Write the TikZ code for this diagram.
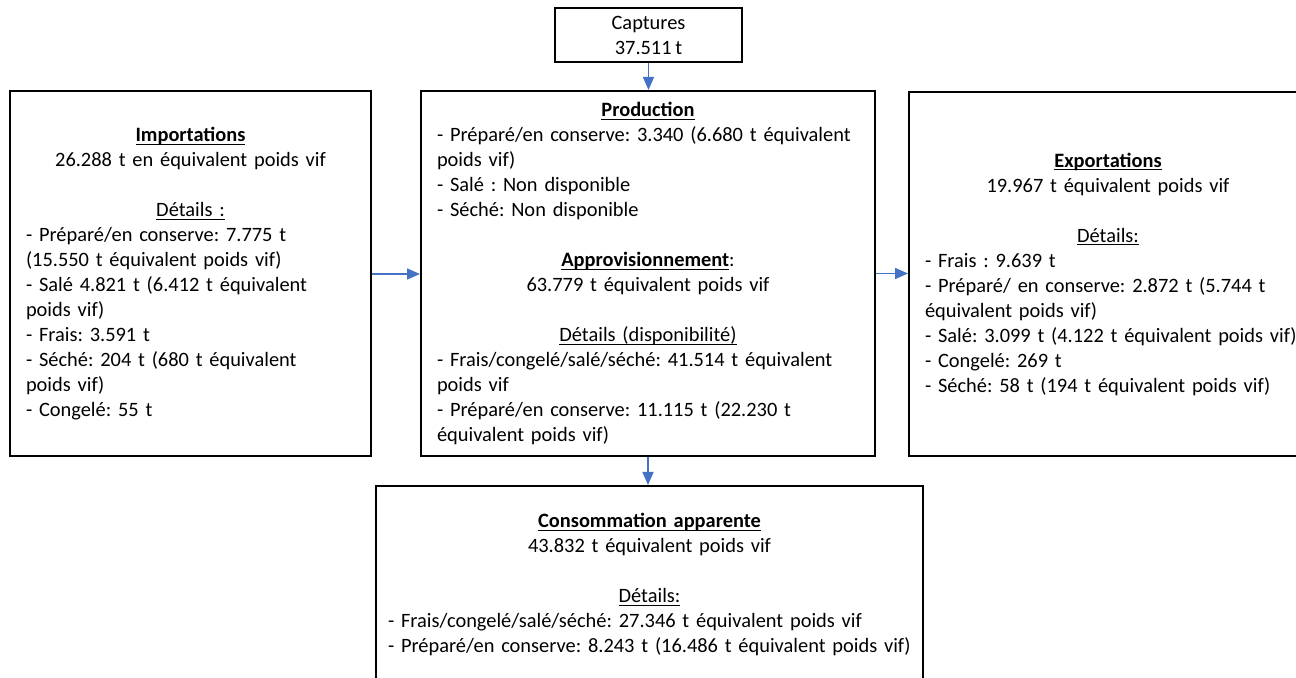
\documentclass[tikz,border=0pt]{standalone}
\usepackage{fontspec}
\setmainfont{Carlito}
\usepackage{tikz}
\usetikzlibrary{arrows.meta}
\usetikzlibrary{positioning}
\definecolor{fl-arrow}{HTML}{4472C4}
\definecolor{fl-text}{HTML}{000000}
\newcommand{\uln}[1]{\leavevmode\setbox0\hbox{#1}\rlap{\rule[-1.6pt]{\wd0}{0.55pt}}\box0}
\newcommand{\gap}{\par\vspace{12.5pt}}
\newcommand{\boxfont}{\fontsize{10.2}{12.5}\selectfont\frenchspacing\spaceskip 0.18em\relax}

\begin{document}
\frenchspacing
\begin{tikzpicture}[x=0.5pt, y=-0.5pt,
    >={Triangle[length=6.5pt, width=5.5pt]},
    box/.style={draw=black, line width=1pt, fill=white, text=fl-text,
        inner xsep=8pt, inner ysep=0pt, font=\boxfont},
    panel/.style={box, execute at begin node={\raggedright}},
    flow/.style={->, fl-arrow, line width=0.75pt}]
    % --- Page frame and clipping ---
    \useasboundingbox (0, 0) rectangle (1296, 678);
    \clip (0, 0) rectangle (1296, 678);

    % --- Captures on top ---
    \node[box, minimum width=93.5pt, minimum height=27pt, align=center] (capt) at (648.5, 35)
        {Captures\\37.511 t};

    % --- Production and supply in the middle ---
    \node[panel, minimum width=227pt, minimum height=182.5pt, text width=211pt] (prod) at (648, 273.5) {%
        {\centering\uln{\textbf{Production}}\par}
        \mbox{- Préparé/en conserve: 3.340 (6.680 t équivalent}\\
        poids vif)\\
        - Salé : Non disponible\\
        - Séché: Non disponible\gap
        {\centering\uln{\textbf{Approvisionnement}}:\\
        63.779 t équivalent poids vif\gap
        \uln{Détails (disponibilité)}\par}
        \mbox{- Frais/congelé/salé/séché: 41.514 t équivalent}\\
        poids vif\\
        - Préparé/en conserve: 11.115 t (22.230 t\\
        équivalent poids vif)};

    % --- Imports on the left ---
    \node[panel, minimum width=180.5pt, minimum height=182.5pt, text width=164.5pt] (imp) at (190.5, 274) {%
        {\centering\uln{\textbf{Importations}}\\
        26.288 t en équivalent poids vif\gap
        \uln{Détails :}\par}
        - Préparé/en conserve: 7.775 t\\
        (15.550 t équivalent poids vif)\\
        - Salé 4.821 t (6.412 t équivalent\\
        poids vif)\\
        - Frais: 3.591 t\\
        - Séché: 204 t (680 t équivalent\\
        poids vif)\\
        - Congelé: 55 t};

    % --- Exports on the right (box runs past the page) ---
    \node[panel, minimum width=199pt, minimum height=182pt, text width=183pt] (exp) at (1108, 274) {%
        {\centering\uln{\textbf{Exportations}}\\
        19.967 t équivalent poids vif\gap
        \uln{Détails:}\par}
        - Frais : 9.639 t\\
        - Préparé/ en conserve: 2.872 t (5.744 t\\
        équivalent poids vif)\\
        \mbox{- Salé: 3.099 t (4.122 t équivalent poids vif)}\\
        - Congelé: 269 t\\
        - Séché: 58 t (194 t équivalent poids vif)};

    % --- Apparent consumption at the bottom ---
    \node[panel, minimum width=273.5pt, minimum height=98.5pt, text width=261.5pt, inner xsep=6pt] (cons) at (649.5, 584.5) {%
        {\centering\uln{\textbf{Consommation apparente}}\\
        43.832 t équivalent poids vif\gap
        \uln{Détails:}\par}
        - Frais/congelé/salé/séché: 27.346 t équivalent poids vif\\
        \mbox{- Préparé/en conserve: 8.243 t (16.486 t équivalent poids vif)}};

    % Draw the flows between boxes
    \draw[flow] (capt.south) -- (capt.south |- prod.north);
    \draw[flow] (imp.east) -- (imp.east -| prod.west);
    \draw[flow] (prod.east) -- (prod.east -| exp.west);
    \draw[flow] (prod.south) -- (prod.south |- cons.north);
\end{tikzpicture}
\end{document}
